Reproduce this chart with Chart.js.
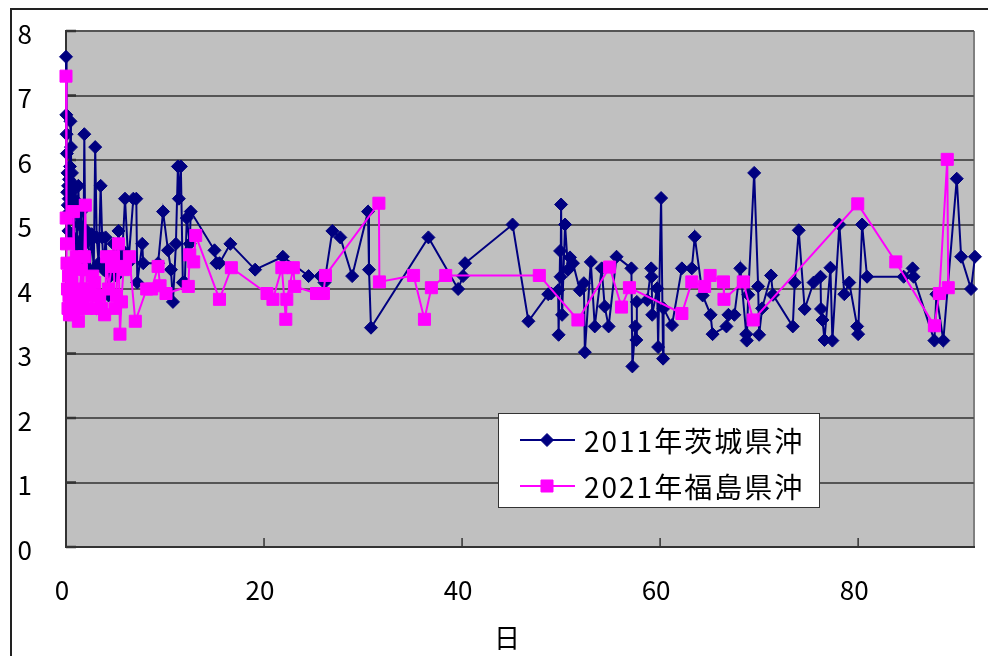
<!DOCTYPE html>
<html lang="ja">
<head>
  <meta charset="UTF-8">
  <title>茨城県沖・福島県沖</title>
  <script src="https://cdn.jsdelivr.net/npm/chart.js"></script>
  <style>
    html, body {
      margin: 0;
      padding: 0;
      background: #fff;
    }
    #wrap {
      width: 988px;
      height: 656px;
    }
  </style>
</head>
<body>
  <div id="wrap"><canvas id="quakeChart"></canvas></div>

  <script>
    // 2011年茨城県沖 (日, 値)
    const ibarakiDays = [0.00, 0.03, 0.06, 0.09, 0.12, 0.15, 0.18, 0.21, 0.24, 0.27, 0.30, 0.35, 0.40, 0.45, 0.50,
      0.55, 0.60, 0.65, 0.70, 0.75, 0.80, 0.90, 1.00, 1.10, 1.25, 1.35, 1.45, 1.55, 1.65, 1.75, 1.85, 1.95,
      2.10, 2.25, 2.40, 2.60, 2.80, 2.95, 3.10, 3.30, 3.50, 3.65, 3.80, 4.00, 4.30, 4.50, 4.80, 5.10, 5.30,
      5.50, 5.70, 5.96, 6.30, 6.80, 7.10, 7.20, 7.70, 7.80, 9.30, 9.80, 10.3, 10.6, 10.8, 11.1, 11.3, 11.4,
      11.6, 11.8, 12.0, 12.2, 12.5, 12.6, 15.0, 15.2, 15.5, 16.6, 19.1, 21.9, 24.5, 25.7, 26.1, 26.9, 27.7,
      28.9, 30.5, 30.6, 30.8, 36.6, 39.6, 40.1, 40.3, 45.1, 46.7, 48.7, 49.0, 49.7, 49.75, 49.9, 49.95, 50.0,
      50.1, 50.4, 50.7, 50.9, 51.2, 51.9, 52.3, 52.4, 53.0, 53.4, 54.1, 54.4, 54.8, 55.6, 57.1, 57.2, 57.5,
      57.6, 57.65, 58.7, 59.1, 59.15, 59.2, 59.7, 59.8, 60.1, 60.3, 60.35, 61.2, 62.2, 63.2, 63.5, 64.3,
      65.1, 65.3, 66.7, 66.9, 67.5, 68.1, 68.7, 68.75, 68.9, 69.5, 69.9, 70.0, 70.3, 71.2, 71.4, 73.4, 73.6,
      74.0, 74.6, 75.5, 76.2, 76.25, 76.4, 76.6, 77.2, 77.4, 78.1, 78.6, 79.1, 79.9, 80.0, 80.4, 80.9, 84.6,
      85.5, 85.6, 87.7, 87.9, 88.6, 89.96, 90.4, 91.4, 91.8, 94.5];
    const ibarakiVals = [7.6, 6.7, 6.4, 6.1, 5.5, 5.8, 5.3, 5.6, 4.9, 5.4, 5.7, 5.2, 5.9, 6.6, 6.2,
      5.5, 5.8, 5.3, 5.6, 4.8, 5.4, 5.6, 5.2, 4.7, 5.6, 5.0, 4.6, 5.2, 4.4, 4.3, 6.4, 4.7,
      4.9, 4.8, 4.3, 4.85, 4.3, 6.2, 4.8, 4.4, 5.6, 4.8, 4.3, 4.8, 3.9, 4.2, 4.7, 4.2, 4.9,
      4.5, 4.6, 5.4, 4.4, 5.4, 5.4, 4.1, 4.7, 4.4, 4.4, 5.2, 4.6, 4.3, 3.8, 4.7, 5.9, 5.4,
      5.9, 4.1, 4.1, 5.1, 4.7, 5.2, 4.6, 4.4, 4.4, 4.7, 4.3, 4.5, 4.2, 4.2, 4.1, 4.9, 4.8,
      4.2, 5.2, 4.3, 3.4, 4.8, 4.0, 4.2, 4.4, 5.0, 3.5, 3.92, 3.93, 3.98, 3.29, 4.59, 4.19, 5.31,
      3.6, 5.0, 4.3, 4.49, 4.4, 3.98, 4.09, 3.02, 4.42, 3.42, 4.32, 3.73, 3.42, 4.5, 4.32, 2.8, 3.42,
      3.21, 3.8, 3.83, 4.32, 4.19, 3.6, 4.01, 3.1, 5.41, 2.92, 3.7, 3.44, 4.32, 4.32, 4.81, 3.9,
      3.6, 3.3, 3.42, 3.6, 3.6, 4.32, 3.3, 3.2, 3.91, 5.8, 4.04, 3.29, 3.7, 4.21, 3.91, 3.42, 4.1,
      4.91, 3.69, 4.1, 4.19, 3.69, 3.52, 3.21, 4.33, 3.2, 5.0, 3.92, 4.1, 3.42, 3.3, 5.0, 4.19, 4.19,
      4.32, 4.19, 3.2, 3.92, 3.2, 5.71, 4.5, 4.0, 4.5, 5.4];

    // 2021年福島県沖 (日, 値)
    const fukushimaDays = [0.00, 0.02, 0.05, 0.10, 0.15, 0.20, 0.25, 0.30, 0.35, 0.40, 0.50, 0.60, 0.70, 0.75,
      0.85, 0.95, 1.05, 1.15, 1.25, 1.40, 1.55, 1.70, 1.85, 1.95, 2.10, 2.30, 2.50, 2.70, 2.90, 3.10, 3.30,
      3.60, 3.90, 4.10, 4.30, 4.60, 4.80, 4.95, 5.10, 5.30, 5.45, 5.60, 5.80, 6.00, 6.40, 7.00, 8.15, 8.65,
      9.30, 9.50, 10.1, 12.35, 12.5, 12.9, 13.1, 15.5, 16.7, 20.3, 20.9, 21.8, 22.2, 22.3, 22.96, 23.1,
      25.3, 26.0, 26.2, 31.6, 31.65, 35.1, 36.2, 36.9, 38.35, 47.8, 51.7, 54.9, 56.1, 56.9, 62.2, 63.2,
      64.5, 65.05, 66.4, 66.45, 68.4, 69.4, 79.96, 83.8, 87.7, 88.2, 89.0, 89.1];
    const fukushimaVals = [7.3, 5.1, 4.7, 4.4, 4.0, 3.7, 4.2, 3.9, 3.6, 4.3, 3.8, 4.1, 3.6, 5.2,
      4.4, 3.9, 4.5, 3.7, 3.5, 4.0, 4.3, 3.8, 4.5, 5.3, 3.7, 4.0, 3.9, 4.2, 4.1, 3.7, 3.9,
      3.7, 3.6, 4.5, 4.0, 4.35, 4.5, 3.7, 3.9, 4.7, 3.3, 3.8, 4.3, 4.35, 4.5, 3.5, 4.0, 4.0,
      4.35, 4.05, 3.93, 4.04, 4.53, 4.42, 4.83, 3.84, 4.33, 3.93, 3.84, 4.33, 3.53, 3.84, 4.33, 4.04,
      3.93, 3.93, 4.21, 5.33, 4.11, 4.21, 3.53, 4.02, 4.21, 4.21, 3.52, 4.34, 3.72, 4.02, 3.62, 4.11,
      4.04, 4.21, 4.11, 3.84, 4.11, 3.52, 5.32, 4.42, 3.43, 3.93, 6.01, 4.02];

    const seriesNames = ['2011年茨城県沖', '2021年福島県沖'];
    const xTitle = '日';
    const fontFamily = "'Noto Sans CJK JP', 'Noto Sans', sans-serif";

    function toPoints(xs, ys) {
      return xs.map((x, i) => ({ x: x, y: ys[i] }));
    }

    // 灰色の背景と外枠
    const framePlugin = {
      id: 'frame',
      beforeDraw(chart) {
        const { ctx, chartArea: a } = chart;
        ctx.save();
        ctx.fillStyle = '#C0C0C0';
        ctx.fillRect(a.left, a.top, a.right - a.left, a.bottom - a.top);
        ctx.strokeStyle = '#808080';
        ctx.lineWidth = 2;
        ctx.beginPath();
        ctx.moveTo(a.right, a.top);
        ctx.lineTo(a.right, a.bottom);
        ctx.stroke();
        // outer border of the chart object
        ctx.strokeStyle = '#222';
        ctx.lineWidth = 2;
        ctx.beginPath();
        ctx.moveTo(11, chart.height);
        ctx.lineTo(11, 9);
        ctx.lineTo(chart.width, 9);
        ctx.stroke();
        ctx.restore();
      },
      beforeDatasetsDraw(chart) {
        // inside tick marks
        const { ctx, chartArea: a, scales } = chart;
        ctx.save();
        ctx.strokeStyle = '#333';
        ctx.lineWidth = 1.5;
        scales.x.ticks.forEach(t => {
          const px = scales.x.getPixelForValue(t.value);
          ctx.beginPath();
          ctx.moveTo(px, a.bottom);
          ctx.lineTo(px, a.bottom - 9);
          ctx.stroke();
        });
        ctx.lineWidth = 2.5;
        scales.y.ticks.forEach(t => {
          const py = scales.y.getPixelForValue(t.value);
          ctx.beginPath();
          ctx.moveTo(a.left, py);
          ctx.lineTo(a.left + 10, py);
          ctx.stroke();
        });
        ctx.restore();
      },
      afterDraw(chart) {
        const { ctx, chartArea: a } = chart;
        ctx.save();
        // x axis title
        ctx.fillStyle = '#000';
        ctx.font = '26px ' + fontFamily;
        ctx.textAlign = 'center';
        ctx.textBaseline = 'middle';
        ctx.fillText(xTitle, a.left + 441, a.bottom + 91);

        // legend box
        const bx = 498, by = 413, bw = 321, bh = 94;
        ctx.fillStyle = '#fff';
        ctx.fillRect(bx, by, bw, bh);
        ctx.strokeStyle = '#333';
        ctx.lineWidth = 1;
        ctx.strokeRect(bx + 0.5, by + 0.5, bw, bh);
        ctx.font = '28px ' + fontFamily;
        ctx.letterSpacing = '2px';
        ctx.textAlign = 'left';
        chart.data.datasets.forEach((ds, i) => {
          const y = by + 27 + i * 46;
          ctx.strokeStyle = ds.borderColor;
          ctx.lineWidth = 2;
          ctx.beginPath();
          ctx.moveTo(bx + 22, y);
          ctx.lineTo(bx + 77, y);
          ctx.stroke();
          ctx.fillStyle = ds.backgroundColor;
          ctx.strokeStyle = ds.borderColor;
          ctx.lineWidth = 1;
          Chart.helpers.drawPoint(ctx, { pointStyle: ds.pointStyle, radius: ds.pointRadius, rotation: 0, borderWidth: 1 }, bx + 49, y);
          ctx.fillStyle = '#000';
          ctx.fillText(ds.label, bx + 86, y + 1);
        });
        ctx.restore();
      }
    };

    const ctx = document.getElementById('quakeChart').getContext('2d');
    const chart = new Chart(ctx, {
      type: 'scatter',
      data: {
        datasets: [{
          label: seriesNames[0],
          data: toPoints(ibarakiDays, ibarakiVals),
          showLine: true,
          borderColor: '#000080',
          backgroundColor: '#000080',
          borderWidth: 2,
          pointStyle: 'rectRot',
          pointRadius: 6.5,
          pointBorderWidth: 1,
          tension: 0,
          clip: false,
          order: 1
        }, {
          label: seriesNames[1],
          data: toPoints(fukushimaDays, fukushimaVals),
          showLine: true,
          borderColor: '#FF00FF',
          backgroundColor: '#FF00FF',
          borderWidth: 2,
          pointStyle: 'rect',
          pointRadius: 8.5,
          pointBorderWidth: 1,
          tension: 0,
          clip: false,
          order: 0
        }]
      },
      options: {
        responsive: true,
        maintainAspectRatio: false,
        animation: false,
        layout: { padding: { left: 0, right: 14, top: 31, bottom: 0 } },
        plugins: {
          legend: { display: false },
          tooltip: { enabled: false }
        },
        scales: {
          x: {
            type: 'linear',
            min: 0,
            max: 91.7,
            afterFit: s => { s.height = 109; },
            grid: { display: false, drawTicks: false },
            border: { color: '#333', width: 2 },
            ticks: {
              stepSize: 20,
              includeBounds: false,
              padding: 28,
              labelOffset: -4,
              color: '#000',
              font: { family: fontFamily, size: 26 }
            }
          },
          y: {
            min: 0,
            max: 8,
            afterFit: s => { s.width = 66; },
            grid: { color: '#555', lineWidth: 2, drawTicks: true, tickLength: 34, tickColor: 'rgba(0,0,0,0)' },
            border: { color: '#333', width: 2 },
            ticks: {
              stepSize: 1,
              padding: 0,
              labelOffset: 3,
              color: '#000',
              font: { family: fontFamily, size: 26 }
            }
          }
        }
      },
      plugins: [framePlugin]
    });
  </script>
</body>
</html>
